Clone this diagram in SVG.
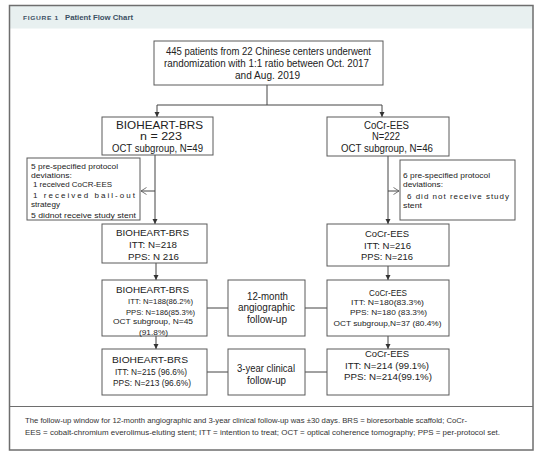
<svg xmlns="http://www.w3.org/2000/svg" width="554" height="461" viewBox="0 0 554 461">
<style>
text{font-family:"Liberation Sans",Arial,sans-serif;fill:#222;}
.c{text-anchor:middle;}
.box{fill:#fff;stroke:#5a5a5a;stroke-width:1;}
.ln{fill:none;stroke:#444;stroke-width:1;}
.f10{font-size:10px;}
.f95{font-size:9.5px;}
.f8{font-size:8px;}
.ft{font-size:7.5px;fill:#333;}
.hd{font-weight:bold;fill:#3b4f63;}
</style>
<defs>
<marker id="af" markerUnits="userSpaceOnUse" markerWidth="6" markerHeight="6" refX="5" refY="3" orient="auto">
<path d="M0,0.5 L5,3 L0,5.5 z" fill="#333"/>
</marker>
<marker id="ao" markerUnits="userSpaceOnUse" markerWidth="7" markerHeight="8" refX="6" refY="4" orient="auto">
<path d="M0.5,0.5 L6,4 L0.5,7.5" fill="none" stroke="#555" stroke-width="0.8"/>
</marker>
</defs>
<rect x="0" y="0" width="554" height="461" fill="#fff"/>
<g id="frame">
<rect x="9.5" y="5.5" width="523.5" height="23" fill="#e8f0f0"/>
<rect x="9.5" y="5.5" width="523.5" height="444.5" fill="none" stroke="#6e6e6e" stroke-width="1.5"/>
<line x1="9.5" y1="406.5" x2="533" y2="406.5" stroke="#6e6e6e" stroke-width="1"/>
<text class="hd" x="23" y="20" font-size="6px" letter-spacing="0.6" textLength="36" lengthAdjust="spacingAndGlyphs">FIGURE 1</text>
<text class="hd" x="65" y="20" font-size="7.5px" textLength="68" lengthAdjust="spacingAndGlyphs">Patient Flow Chart</text>
<text class="ft" x="25" y="423" textLength="442" lengthAdjust="spacingAndGlyphs">The follow-up window for 12-month angiographic and 3-year clinical follow-up was ±30 days. BRS = bioresorbable scaffold; CoCr-</text>
<text class="ft" x="25" y="435" textLength="475" lengthAdjust="spacingAndGlyphs">EES = cobalt-chromium everolimus-eluting stent; ITT = intention to treat; OCT = optical coherence tomography; PPS = per-protocol set.</text>
</g>
<g id="connectors">
<line class="ln" x1="267" y1="85" x2="267" y2="105"/>
<line class="ln" x1="157" y1="105" x2="382" y2="105"/>
<line class="ln" x1="157" y1="105" x2="157" y2="117" marker-end="url(#af)"/>
<line class="ln" x1="382" y1="105" x2="382" y2="117" marker-end="url(#af)"/>
<line class="ln" x1="155" y1="155" x2="155" y2="224" marker-end="url(#af)"/>
<line class="ln" x1="155" y1="191" x2="141" y2="191" marker-end="url(#ao)"/>
<line class="ln" x1="388" y1="156" x2="388" y2="224" marker-end="url(#af)"/>
<line class="ln" x1="388" y1="191" x2="399" y2="191" marker-end="url(#ao)"/>
<line class="ln" x1="156" y1="263" x2="156" y2="280" marker-end="url(#af)"/>
<line class="ln" x1="388" y1="266" x2="388" y2="280" marker-end="url(#af)"/>
<line class="ln" x1="156" y1="336" x2="156" y2="349" marker-end="url(#af)"/>
<line class="ln" x1="388" y1="336" x2="388" y2="349" marker-end="url(#af)"/>
<line class="ln" x1="207" y1="308" x2="228" y2="308"/>
<line class="ln" x1="305" y1="308" x2="327" y2="308"/>
<line class="ln" x1="207" y1="372" x2="228" y2="372"/>
<line class="ln" x1="305" y1="372" x2="327" y2="372"/>
</g>
<g id="n-top">
<rect class="box" x="154" y="41" width="229" height="44"/>
<text class="c f10" x="268.5" y="54.5" textLength="205" lengthAdjust="spacingAndGlyphs">445 patients from 22 Chinese centers underwent</text>
<text class="c f10" x="266.5" y="67" textLength="205" lengthAdjust="spacingAndGlyphs">randomization with 1:1 ratio between Oct. 2017</text>
<text class="c f10" x="267.5" y="79" textLength="65" lengthAdjust="spacingAndGlyphs">and Aug. 2019</text>
</g>
<g id="n-brs1">
<rect class="box" x="102" y="117" width="111" height="38"/>
<text class="c" font-size="11px" x="159.5" y="129" textLength="87" lengthAdjust="spacingAndGlyphs">BIOHEART-BRS</text>
<text class="c f10" x="161" y="140" textLength="42" lengthAdjust="spacingAndGlyphs">n = 223</text>
<text class="c f10" x="157.5" y="152" textLength="91" lengthAdjust="spacingAndGlyphs">OCT subgroup, N=49</text>
</g>
<g id="n-cocr1">
<rect class="box" x="327" y="117" width="122" height="39"/>
<text class="c f10" x="386.5" y="129" textLength="45" lengthAdjust="spacingAndGlyphs">CoCr-EES</text>
<text class="c f10" x="386" y="140" textLength="28" lengthAdjust="spacingAndGlyphs">N=222</text>
<text class="c f10" x="387" y="152" textLength="92" lengthAdjust="spacingAndGlyphs">OCT subgroup, N=46</text>
</g>
<g id="n-devL">
<rect class="box" x="27" y="158" width="113" height="62"/>
<text class="f8" x="31" y="169" textLength="87" lengthAdjust="spacingAndGlyphs">5 pre-specified protocol</text>
<text class="f8" x="31" y="178" textLength="41" lengthAdjust="spacingAndGlyphs">deviations:</text>
<text class="f8" x="33" y="186.5" textLength="79" lengthAdjust="spacingAndGlyphs">1 received CoCR-EES</text>
<text class="f8" x="33" y="198" textLength="102" lengthAdjust="spacing">1 received bail-out</text>
<text class="f8" x="31" y="207" textLength="29" lengthAdjust="spacingAndGlyphs">strategy</text>
<text class="f8" x="31" y="218" textLength="105" lengthAdjust="spacingAndGlyphs">5 didnot receive study stent</text>
</g>
<g id="n-devR">
<rect class="box" x="400" y="160" width="115" height="60"/>
<text class="f8" x="403" y="178" textLength="87" lengthAdjust="spacingAndGlyphs">6 pre-specified protocol</text>
<text class="f8" x="403" y="187" textLength="40" lengthAdjust="spacingAndGlyphs">deviations:</text>
<text class="f8" x="407" y="199" textLength="102" lengthAdjust="spacing">6 did not receive study</text>
<text class="f8" x="403" y="208" textLength="19" lengthAdjust="spacingAndGlyphs">stent</text>
</g>
<g id="n-brs2">
<rect class="box" x="102" y="224" width="105" height="39"/>
<text class="c f95" x="152.5" y="235.5" textLength="73" lengthAdjust="spacingAndGlyphs">BIOHEART-BRS</text>
<text class="c f95" x="153" y="247.5" textLength="48" lengthAdjust="spacingAndGlyphs">ITT: N=218</text>
<text class="c f95" x="153.5" y="259.5" textLength="51" lengthAdjust="spacingAndGlyphs">PPS: N 216</text>
</g>
<g id="n-cocr2">
<rect class="box" x="327" y="224" width="122" height="42"/>
<text class="c f95" x="387" y="236.5" textLength="44" lengthAdjust="spacingAndGlyphs">CoCr-EES</text>
<text class="c f95" x="387.5" y="248.5" textLength="47" lengthAdjust="spacingAndGlyphs">ITT: N=216</text>
<text class="c f95" x="387" y="259.5" textLength="52" lengthAdjust="spacingAndGlyphs">PPS: N=216</text>
</g>
<g id="n-brs3">
<rect class="box" x="102" y="280" width="105" height="56"/>
<text class="c f95" x="152.5" y="292.5" textLength="73" lengthAdjust="spacingAndGlyphs">BIOHEART-BRS</text>
<text class="c f8" x="160.5" y="304" textLength="65" lengthAdjust="spacingAndGlyphs">ITT: N=188(86.2%)</text>
<text class="c f8" x="160.5" y="314.5" textLength="69" lengthAdjust="spacingAndGlyphs">PPS: N=186(85.3%)</text>
<text class="c f8" x="153" y="323.5" textLength="80" lengthAdjust="spacingAndGlyphs">OCT subgroup, N=45</text>
<text class="c f8" x="153.5" y="334.5" textLength="29" lengthAdjust="spacingAndGlyphs">(91.8%)</text>
</g>
<g id="n-12m">
<rect class="box" x="228" y="280" width="77" height="56"/>
<text class="c f10" x="267.5" y="299.5" textLength="41" lengthAdjust="spacingAndGlyphs">12-month</text>
<text class="c f10" x="266.5" y="310.5" textLength="57" lengthAdjust="spacingAndGlyphs">angiographic</text>
<text class="c f10" x="267" y="322.5" textLength="40" lengthAdjust="spacingAndGlyphs">follow-up</text>
</g>
<g id="n-cocr3">
<rect class="box" x="327" y="280" width="122" height="56"/>
<text class="c" font-size="8.5px" x="388" y="296" textLength="38" lengthAdjust="spacingAndGlyphs">CoCr-EES</text>
<text class="c f8" x="387.5" y="305" textLength="73" lengthAdjust="spacingAndGlyphs">ITT: N=180(83.3%)</text>
<text class="c f8" x="388.5" y="315" textLength="77" lengthAdjust="spacingAndGlyphs">PPS: N=180 (83.3%)</text>
<text class="c f8" x="387.5" y="326" textLength="108" lengthAdjust="spacingAndGlyphs">OCT subgroup,N=37 (80.4%)</text>
</g>
<g id="n-brs4">
<rect class="box" x="102" y="349" width="105" height="46"/>
<text class="c f95" x="150" y="362.5" textLength="76" lengthAdjust="spacingAndGlyphs">BIOHEART-BRS</text>
<text class="c" font-size="8.5px" x="151" y="375" textLength="72" lengthAdjust="spacingAndGlyphs">ITT: N=215 (96.6%)</text>
<text class="c" font-size="8.5px" x="152" y="386" textLength="78" lengthAdjust="spacingAndGlyphs">PPS: N=213 (96.6%)</text>
</g>
<g id="n-3y">
<rect class="box" x="228" y="349" width="77" height="46"/>
<text class="c f10" x="266" y="371.5" textLength="58" lengthAdjust="spacingAndGlyphs">3-year clinical</text>
<text class="c f10" x="266.5" y="383.5" textLength="39" lengthAdjust="spacingAndGlyphs">follow-up</text>
</g>
<g id="n-cocr4">
<rect class="box" x="327" y="349" width="122" height="46"/>
<text class="c f95" x="387" y="356.5" textLength="44" lengthAdjust="spacingAndGlyphs">CoCr-EES</text>
<text class="c f95" x="387" y="368.5" textLength="84" lengthAdjust="spacingAndGlyphs">ITT: N=214 (99.1%)</text>
<text class="c f95" x="388" y="379.5" textLength="88" lengthAdjust="spacingAndGlyphs">PPS: N=214(99.1%)</text>
</g>
</svg>
